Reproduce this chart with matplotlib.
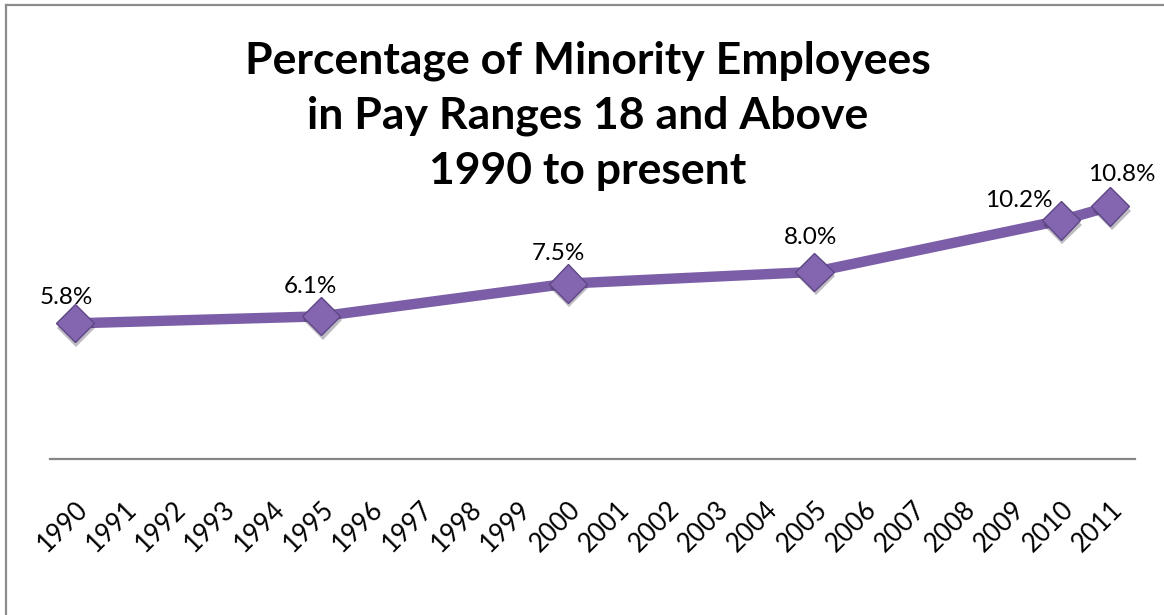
import numpy as np
import matplotlib
matplotlib.use("Agg")
import matplotlib.pyplot as plt
import matplotlib.patheffects as pe

# data
years = [str(y) for y in range(1990, 2012)]
point_years = ["1990", "1995", "2000", "2005", "2010", "2011"]
pct = [5.8, 6.1, 7.5, 8.0, 10.2, 10.8]
labels = ["5.8%", "6.1%", "7.5%", "8.0%", "10.2%", "10.8%"]
title = "Percentage of Minority Employees\nin Pay Ranges 18 and Above\n1990 to present"

# label offsets in points (style only)
lab_off = [(-6, 14), (-8, 16.5), (-6.5, 17), (-3, 20), (-30, 10), (8.6, 18)]

plt.rcParams["font.family"] = ["Lato", "DejaVu Sans"]
fig = plt.figure(figsize=(11.64, 6.15), dpi=100)
ax = fig.add_axes([50/1164, 1-459/615, 1085/1164, 421/615])

x = [years.index(y) for y in point_years]
ax.plot(x, pct, color="#7b5ea7", lw=7.5, solid_capstyle="butt", zorder=2)
ax.plot(x, pct, ls="none", marker="D", ms=19.5, mfc="#8466b0", mec="#5d4785", mew=1.0,
        zorder=3, path_effects=[pe.SimplePatchShadow(offset=(1, -3), alpha=0.3), pe.Normal()])
for xi, v, t, o in zip(x, pct, labels, lab_off):
    ax.annotate(t, (xi, v), textcoords="offset points", xytext=o, ha="center", va="baseline",
                fontsize=17.5, color="black")

ax.set_xlim(-0.5, len(years)-0.5)
ax.set_ylim(0, 18)
ax.set_xticks(range(len(years)))
ax.set_xticklabels(years, rotation=45, ha="right", rotation_mode="anchor", fontsize=18.5)
ax.tick_params(axis="x", length=0, pad=27)
ax.set_yticks([])
for s in ["top", "right", "left"]:
    ax.spines[s].set_visible(False)
ax.spines["bottom"].set_color("#868686")
ax.spines["bottom"].set_linewidth(1.6)

fig.text(588/1164, 1-116/615, title, ha="center", va="center", fontsize=32,
         fontweight="bold", linespacing=1.45)

# outer chart border (left and top visible)
fig.add_artist(plt.Line2D([6/1164, 6/1164], [0, 1-4.5/615], color="#8c8c8c", lw=1.6,
                          transform=fig.transFigure))
fig.add_artist(plt.Line2D([6/1164, 1], [1-4.5/615, 1-4.5/615], color="#8c8c8c", lw=1.6,
                          transform=fig.transFigure))

fig.savefig("out.png", dpi=100)
